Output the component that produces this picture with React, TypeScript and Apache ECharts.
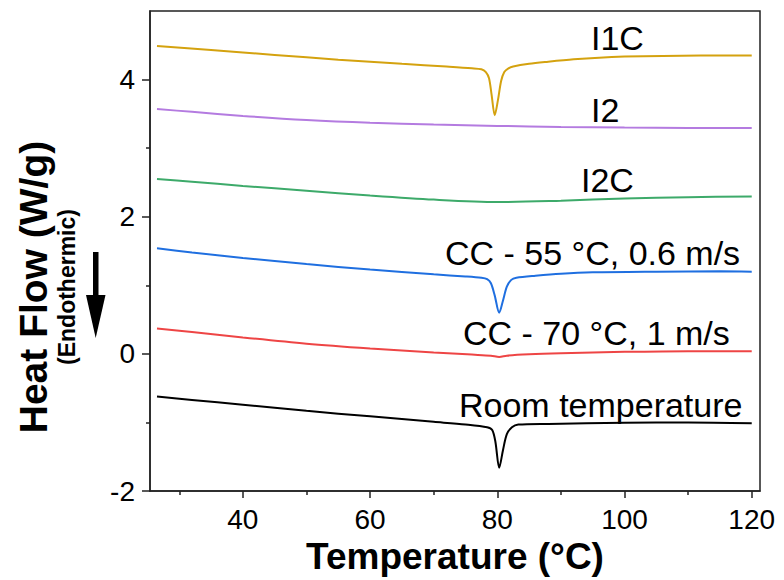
import React, { useEffect, useRef } from "react";
import * as echarts from "echarts";

// ---- data (Temperature °C, Heat flow W/g) ----
const i1c: [number, number][] = [
  [26.5, 4.49], [35, 4.43], [45, 4.36], [55, 4.29], [65, 4.23], [72, 4.19], [76, 4.165],
  [77.5, 4.15], [78.2, 4.11], [78.7, 4.02], [79.1, 3.78], [79.6, 3.48], [80.1, 3.7],
  [80.6, 3.98], [81.1, 4.11], [81.7, 4.16], [82.5, 4.19], [85, 4.23], [88, 4.26],
  [92, 4.295], [96, 4.32], [100, 4.335], [106, 4.345], [112, 4.35], [120, 4.35],
];
const i2: [number, number][] = [
  [26.5, 3.57], [32, 3.53], [40, 3.47], [50, 3.41], [60, 3.37], [70, 3.345], [80, 3.325],
  [90, 3.31], [100, 3.3], [110, 3.295], [120, 3.295],
];
const i2c: [number, number][] = [
  [26.5, 2.55], [32, 2.51], [40, 2.45], [50, 2.38], [60, 2.31], [70, 2.25], [80, 2.215],
  [90, 2.235], [100, 2.265], [110, 2.285], [120, 2.295],
];
const cc55: [number, number][] = [
  [26.5, 1.54], [32, 1.48], [40, 1.4], [50, 1.31], [60, 1.23], [70, 1.16], [75, 1.13],
  [77.5, 1.11], [78.4, 1.09], [79, 1.03], [79.6, 0.85], [80.3, 0.6], [80.9, 0.78],
  [81.5, 0.98], [82.2, 1.08], [83, 1.11], [86, 1.14], [90, 1.17], [95, 1.19], [105, 1.2],
  [115, 1.205], [120, 1.2],
];
const cc70: [number, number][] = [
  [26.5, 0.37], [32, 0.32], [40, 0.24], [50, 0.15], [60, 0.08], [70, 0.02], [76, -0.01],
  [79, -0.025], [80.3, -0.045], [81.5, -0.025], [85, -0.005], [90, 0.01], [100, 0.03],
  [110, 0.04], [120, 0.04],
];
const room: [number, number][] = [
  [26.5, -0.62], [32, -0.67], [40, -0.74], [50, -0.83], [60, -0.91], [70, -0.99], [75, -1.03],
  [78.4, -1.07], [79.2, -1.11], [79.7, -1.28], [80.3, -1.66], [80.9, -1.4], [81.5, -1.17],
  [82.3, -1.07], [83.3, -1.03], [88, -1.02], [100, -1.005], [110, -1.0], [120, -1.01],
];

const seriesNames = ["I1C", "I2", "I2C", "CC - 55 °C, 0.6 m/s", "CC - 70 °C, 1 m/s", "Room temperature"];
const seriesData = [i1c, i2, i2c, cc55, cc70, room];
const seriesColors = ["#D4A20F", "#B47BE0", "#3DAA6A", "#1F6FE0", "#EE4545", "#000000"];

const xMajorTicks = [40, 60, 80, 100, 120];
const xMinorTicks = [30, 50, 70, 90, 110];
const yMajorTicks = [-2, 0, 2, 4];
const yMinorTicks = [-1, 1, 3];

const X_MIN = 25.4;
const X_MAX = 121.3;
const Y_MIN = -2;
const Y_MAX = 5;

// label anchor positions (pixels)
const labelPos: [number, number][] = [
  [591, 38], [591, 110], [581, 180], [445, 253], [463, 333], [459, 405],
];

const FONT = "'Liberation Sans', Arial, sans-serif";

export default function App() {
  const ref = useRef<HTMLDivElement>(null);
  useEffect(() => {
    if (!ref.current) return;
    document.body.style.margin = "0";
    const chart = echarts.init(ref.current, undefined, { renderer: "svg" });
    const axisColor = "#222";
    const tickStyle = { color: axisColor, width: 1.5 };
    const option: any = {
      animation: false,
      backgroundColor: "#fff",
      grid: {
        left: 150, right: 24, top: 11, bottom: 85,
        show: true, borderColor: axisColor, borderWidth: 1.5, backgroundColor: "transparent",
      },
      xAxis: [
        {
          type: "value", min: X_MIN, max: X_MAX, position: "bottom",
          axisLine: { show: true, onZero: false, lineStyle: tickStyle },
          axisTick: { show: true, customValues: xMajorTicks, length: 7, inside: false, lineStyle: tickStyle },
          axisLabel: { customValues: xMajorTicks, fontSize: 28, color: "#000", fontFamily: FONT, margin: 14 },
          splitLine: { show: false },
          name: "Temperature (°C)", nameLocation: "middle", nameGap: 45,
          nameTextStyle: { fontSize: 37, fontWeight: "bold", color: "#000", fontFamily: FONT },
        },
        {
          type: "value", min: X_MIN, max: X_MAX, position: "bottom",
          axisLine: { show: false, onZero: false },
          axisTick: { show: true, customValues: xMinorTicks, length: 4, inside: false, lineStyle: tickStyle },
          axisLabel: { show: false },
          splitLine: { show: false },
        },
      ],
      yAxis: [
        {
          type: "value", min: Y_MIN, max: Y_MAX, position: "left",
          axisLine: { show: true, onZero: false, lineStyle: tickStyle },
          axisTick: { show: true, customValues: yMajorTicks, length: 8, inside: false, lineStyle: tickStyle },
          axisLabel: { customValues: yMajorTicks, fontSize: 28, color: "#000", fontFamily: FONT, margin: 15 },
          splitLine: { show: false },
        },
        {
          type: "value", min: Y_MIN, max: Y_MAX, position: "left",
          axisLine: { show: false, onZero: false },
          axisTick: { show: true, customValues: yMinorTicks, length: 4, inside: false, lineStyle: tickStyle },
          axisLabel: { show: false },
          splitLine: { show: false },
        },
      ],
      series: seriesData.map((d, i) => ({
        type: "line",
        name: seriesNames[i],
        data: d,
        xAxisIndex: 0,
        yAxisIndex: 0,
        showSymbol: false,
        smooth: 0.3,
        lineStyle: { color: seriesColors[i], width: 2 },
        z: 3,
      })),
      graphic: [
        ...seriesNames.map((n, i) => ({
          type: "text",
          x: labelPos[i][0],
          y: labelPos[i][1],
          style: {
            text: n, fontSize: 34, fontFamily: FONT, fill: "#000",
            textAlign: "left", textVerticalAlign: "middle",
          },
        })),
        {
          type: "text", x: 33, y: 287, rotation: Math.PI / 2,
          style: {
            text: "Heat Flow (W/g)", fontSize: 39, fontWeight: "bold", fontFamily: FONT,
            fill: "#000", textAlign: "center", textVerticalAlign: "middle",
          },
        },
        {
          type: "text", x: 67, y: 287, rotation: Math.PI / 2,
          style: {
            text: "(Endothermic)", fontSize: 23, fontWeight: "bold", fontFamily: FONT,
            fill: "#000", textAlign: "center", textVerticalAlign: "middle",
          },
        },
        {
          type: "rect", shape: { x: 93, y: 252, width: 5.5, height: 46 },
          style: { fill: "#000" },
        },
        {
          type: "polygon", shape: { points: [[86, 295], [105.5, 295], [95.7, 338]] },
          style: { fill: "#000" },
        },
      ],
    };
    chart.setOption(option);
    return () => chart.dispose();
  }, []);
  return <div ref={ref} style={{ width: 784, height: 580 }} />;
}
